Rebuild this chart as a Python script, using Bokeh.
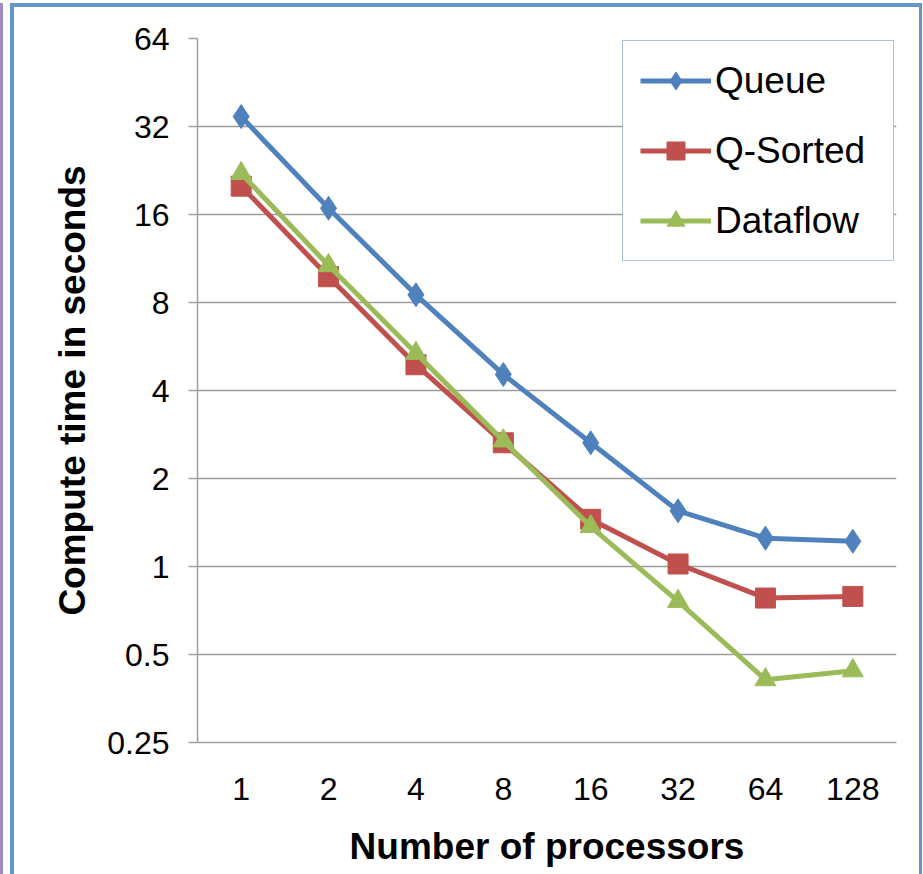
import math
from bokeh.plotting import figure
from bokeh.models import FactorRange, Range1d, FixedTicker, Legend, LegendItem
from bokeh.embed import file_html
from bokeh.resources import INLINE

procs = ["1", "2", "4", "8", "16", "32", "64", "128"]
queue = [34.6, 16.8, 8.5, 4.54, 2.65, 1.55, 1.25, 1.22]
qsorted = [20.0, 9.8, 4.9, 2.65, 1.45, 1.02, 0.78, 0.79]
dataflow = [22.1, 10.7, 5.36, 2.69, 1.37, 0.76, 0.41, 0.44]
y_ticks = [0.25, 0.5, 1, 2, 4, 8, 16, 32, 64]
y_tick_labels = ["0.25", "0.5", "1", "2", "4", "8", "16", "32", "64"]

FONT = "Liberation Sans"

p = figure(
    x_range=FactorRange(*procs),
    y_range=Range1d(0.25, 64),
    y_axis_type="log",
    width=905, height=867,
    output_backend="svg", toolbar_location=None,
    min_border_left=183, min_border_top=31, min_border_right=30, min_border_bottom=136,
)
p.styles = {
    "box-sizing": "content-box",
    "margin-top": "3px", "margin-left": "10px",
    "border-top": "4px solid #6495CD", "border-left": "4px solid #6495CD",
    "border-right": "3px solid #6495CD",
    "box-shadow": "-7px 0 0 0 #ffffff, -10px 0 0 0 #9F8BC4",
}
p.outline_line_color = None
p.background_fill_color = "white"
p.border_fill_color = "white"

# grid
p.xgrid.grid_line_color = None
p.ygrid.grid_line_color = "#9C9C9C"
p.ygrid.grid_line_width = 1.5

# y axis
p.yaxis.ticker = FixedTicker(ticks=y_ticks, minor_ticks=[])
p.yaxis.major_label_overrides = {t: l for t, l in zip(y_ticks, y_tick_labels)}
p.yaxis.axis_label = "Compute time in seconds"
p.yaxis.major_tick_out = 9
p.yaxis.major_tick_in = 0
p.yaxis.minor_tick_out = 0
p.yaxis.minor_tick_in = 0
p.yaxis.major_label_standoff = 19
p.yaxis.axis_label_standoff = 11

# x axis
p.xaxis.axis_label = "Number of processors"
p.xaxis.major_tick_out = 0
p.xaxis.major_tick_in = 0
p.xaxis.major_label_standoff = 35
p.xaxis.axis_label_standoff = 23

for ax in (p.xaxis, p.yaxis):
    ax.axis_line_color = "#A0A0A0"
    ax.axis_line_width = 1.5
    ax.major_tick_line_color = "#A0A0A0"
    ax.major_tick_line_width = 1.5
    ax.major_label_text_font = FONT
    ax.major_label_text_font_size = "32px"
    ax.major_label_text_color = "black"
    ax.axis_label_text_font = FONT
    ax.axis_label_text_font_size = "37px"
    ax.axis_label_text_font_style = "bold"
    ax.axis_label_text_color = "black"

series = [
    ("Queue", queue, "#4F81BD", "diamond", 24),
    ("Q-Sorted", qsorted, "#C0504D", "square", 20),
    ("Dataflow", dataflow, "#9BBB59", "triangle", 21),
]

items = []
for name, vals, color, marker, size in series:
    rl = p.line(procs, vals, line_color=color, line_width=5)
    rm = p.scatter(procs, vals, marker=marker, size=size,
                   fill_color=color, line_color=color)
    items.append(LegendItem(label=name, renderers=[rl, rm]))

legend = Legend(items=items, location="top_right")
legend.margin = 2
legend.padding = 17
legend.spacing = 25
legend.glyph_width = 71
legend.glyph_height = 45
legend.label_height = 45
legend.label_width = 161
legend.label_standoff = 4
legend.label_text_font = FONT
legend.label_text_font_size = "37px"
legend.label_text_color = "black"
legend.border_line_color = "#4F81BD"
legend.border_line_width = 1.5
legend.background_fill_color = "white"
legend.background_fill_alpha = 1.0
p.add_layout(legend)

open("out.html", "w").write(file_html(p, INLINE))
